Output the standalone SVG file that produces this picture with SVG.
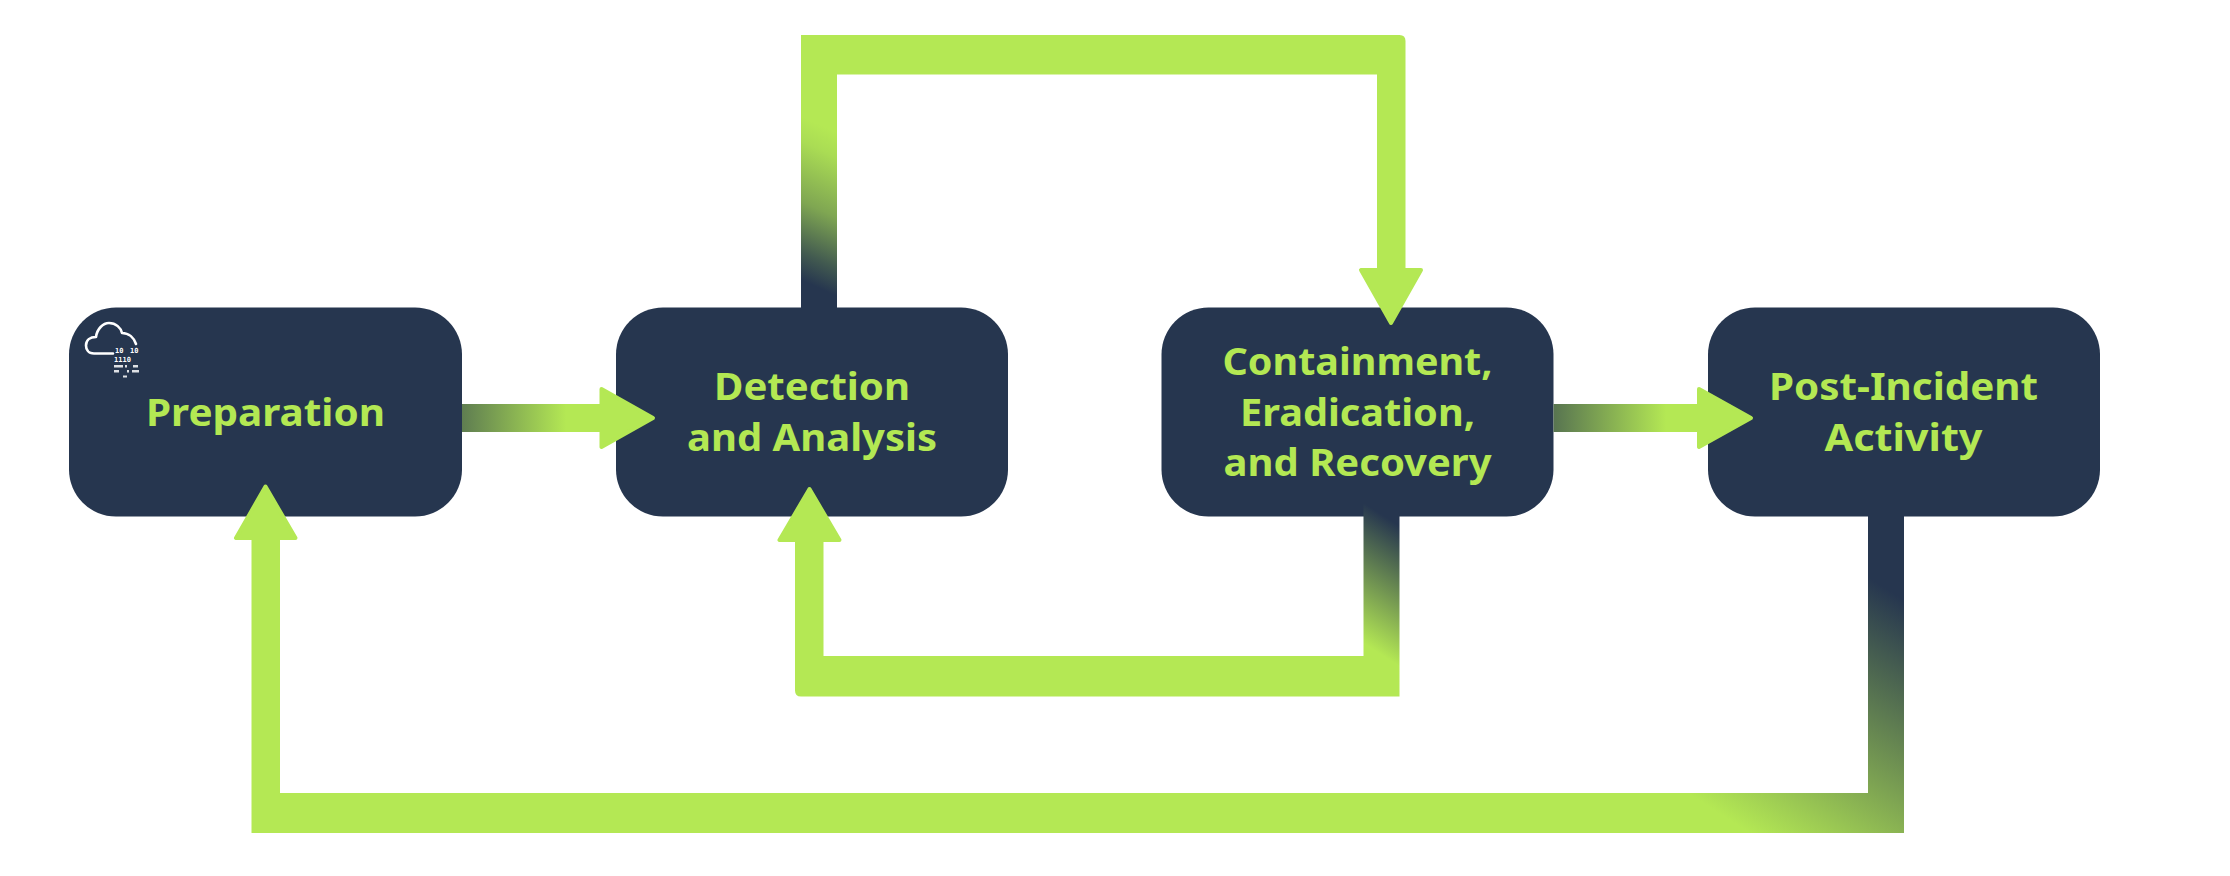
<svg xmlns="http://www.w3.org/2000/svg" width="2230" height="876" viewBox="0 0 2230 876">
  <style>
    .node { fill: #26364f; }
    .label { fill: #b3e853; font-family: "Noto Sans", "Open Sans", sans-serif; font-weight: 700; font-size: 38px; text-anchor: middle; }
    .head { fill: #b4e854; stroke: #b4e854; stroke-width: 4; stroke-linejoin: round; }
    .ico { fill: none; stroke: #ffffff; stroke-width: 2.6; stroke-linecap: round; stroke-linejoin: round; }
    .bits { fill: #ffffff; font-family: "DejaVu Sans Mono", monospace; font-weight: 700; font-size: 7px; }
    .bit { fill: #ffffff; opacity: .85; }
  </style>
  <defs>
    <linearGradient id="g12" gradientUnits="userSpaceOnUse" x1="393" y1="0" x2="566" y2="0"><stop offset="0" stop-color="#26364f"/><stop offset="1" stop-color="#b4e854"/></linearGradient>
    <linearGradient id="g34" gradientUnits="userSpaceOnUse" x1="1493" y1="0" x2="1666" y2="0"><stop offset="0" stop-color="#26364f"/><stop offset="1" stop-color="#b4e854"/></linearGradient>
    <linearGradient id="g23" gradientUnits="userSpaceOnUse" x1="819" y1="288" x2="881" y2="153"><stop offset="0" stop-color="#26364f"/><stop offset=".17" stop-color="#425a50"/><stop offset=".48" stop-color="#7fa652"/><stop offset=".85" stop-color="#aadc54"/><stop offset="1" stop-color="#b4e854"/></linearGradient>
    <linearGradient id="g32" gradientUnits="userSpaceOnUse" x1="1381" y1="514" x2="1317" y2="613"><stop offset="0" stop-color="#26364f"/><stop offset="1" stop-color="#b4e854"/></linearGradient>
    <linearGradient id="g41" gradientUnits="userSpaceOnUse" x1="1904" y1="600" x2="1753" y2="835"><stop offset="0" stop-color="#26364f"/><stop offset="1" stop-color="#b4e854"/></linearGradient>
  </defs>
  <rect width="2230" height="876" fill="#ffffff"/>

  <g id="node-preparation">
    <rect class="node" x="69" y="307.5" width="393" height="209" rx="47"/>
    <text class="label" x="265.500" y="425.500" textLength="239" lengthAdjust="spacingAndGlyphs">Preparation</text>
    <path class="ico" d="M113 353.500H94C88 353.500 86 349 86 345.500C86 340 90 337 96 337C97 329 103 323 109 323C116 323 121 328 122 333C129 333 134 338 136 344"/>
    <text class="bits" x="115" y="352.500">10</text>
    <text class="bits" x="130" y="352.500">10</text>
    <text class="bits" x="114" y="362">1110</text>
    <rect class="bit" x="114" y="365" width="9" height="2.500"/><rect class="bit" x="125" y="365" width="2" height="2.500"/><rect class="bit" x="133" y="365" width="5" height="2.500"/>
    <rect class="bit" x="114" y="370" width="5" height="2.500"/><rect class="bit" x="127" y="370" width="2" height="2.500"/><rect class="bit" x="132" y="370" width="7" height="2.500"/>
    <rect class="bit" x="123" y="375.500" width="4" height="2"/>
  </g>
  <g id="node-detection">
    <rect class="node" x="616" y="307.5" width="392" height="209" rx="47"/>
    <text class="label" x="812" y="400" textLength="196" lengthAdjust="spacingAndGlyphs">Detection</text>
    <text class="label" x="812" y="451" textLength="250" lengthAdjust="spacingAndGlyphs">and Analysis</text>
  </g>
  <g id="node-containment">
    <rect class="node" x="1161.5" y="307.5" width="392" height="209" rx="47"/>
    <text class="label" x="1357.500" y="375" textLength="270" lengthAdjust="spacingAndGlyphs">Containment,</text>
    <text class="label" x="1357.500" y="426" textLength="235" lengthAdjust="spacingAndGlyphs">Eradication,</text>
    <text class="label" x="1357.500" y="476" textLength="268" lengthAdjust="spacingAndGlyphs">and Recovery</text>
  </g>
  <g id="node-post-incident">
    <rect class="node" x="1708" y="307.5" width="392" height="209" rx="47"/>
    <text class="label" x="1903.500" y="400" textLength="269" lengthAdjust="spacingAndGlyphs">Post-Incident</text>
    <text class="label" x="1903.500" y="451" textLength="158" lengthAdjust="spacingAndGlyphs">Activity</text>
  </g>

  <g id="connectors">
    <g id="edge-preparation-detection">
      <rect x="462" y="404" width="140" height="28" fill="url(#g12)"/>
      <polygon class="head" points="601.500,389 653,418 601.500,447"/>
    </g>
    <g id="edge-containment-post">
      <rect x="1553.500" y="404" width="146" height="28" fill="url(#g34)"/>
      <polygon class="head" points="1699,389 1751,418 1699,447"/>
    </g>
    <g id="edge-detection-containment">
      <path d="M801 308V35H1399.500Q1405.500 35 1405.500 41V270H1377V74.500H837V308Z" fill="url(#g23)"/>
      <polygon class="head" points="1361,270 1421,270 1391,323"/>
    </g>
    <g id="edge-containment-detection">
      <path d="M1399.500 502V696.500H801Q795 696.500 795 690.500V540H823.500V656H1363.500V502Z" fill="url(#g32)"/>
      <polygon class="head" points="779.500,540 839.500,540 809.500,489"/>
    </g>
    <g id="edge-post-preparation">
      <path d="M1868 515H1904V833H251.500V538H280V793H1868Z" fill="url(#g41)"/>
      <polygon class="head" points="236,538 295.500,538 265.500,486.500"/>
    </g>
  </g>
</svg>
